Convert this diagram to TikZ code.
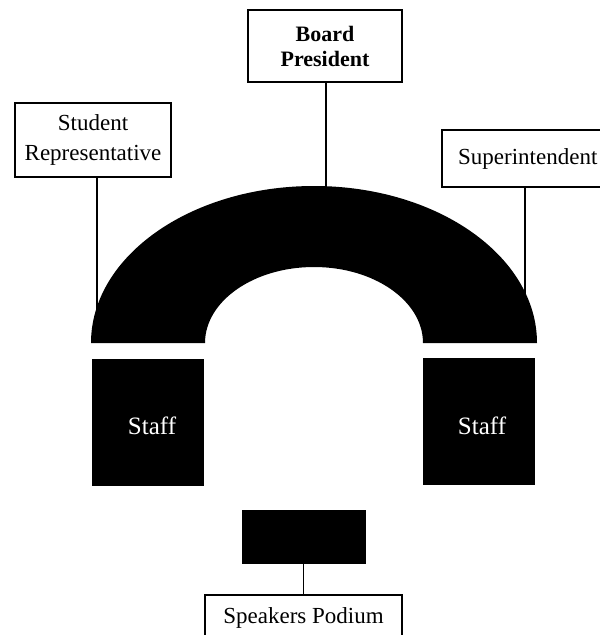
\documentclass[tikz,border=0pt]{standalone}
\usepackage{fontspec}
\setmainfont{Liberation Serif}
\begin{document}
\begin{tikzpicture}[x=1pt,y=-1pt,
  label box/.style={draw=black,line width=1.6pt,fill=white,inner sep=0pt,align=center,
    font=\fontsize{23}{29}\selectfont},
  seat block/.style={fill=black,inner sep=0pt,text=white,font=\fontsize{25}{30}\selectfont},
  wire/.style={line width=1.5pt}]
  \useasboundingbox (0,0) rectangle (600,635);
  \clip (0,0) rectangle (600,635);

  % horseshoe table
  \fill[black,even odd rule] (91,343) arc[start angle=180,end angle=360,x radius=223,y radius=157]
    -- (423,343) arc[start angle=0,end angle=-180,x radius=109,y radius=76] -- cycle;
  \coordinate (topseat) at (326,190);
  \coordinate (leftseat) at (97,310);
  \coordinate (rightseat) at (525,296);

  % staff tables
  \node[seat block,minimum width=112pt,minimum height=127pt] (staffL) at (148,422.5) {};
  \node[text=white,font=\fontsize{25}{30}\selectfont] at (152,426) {Staff};
  \node[seat block,minimum width=112pt,minimum height=127pt] (staffR) at (479,421.5) {};
  \node[text=white,font=\fontsize{25}{30}\selectfont] at (482,426) {Staff};

  % podium
  \node[seat block,minimum width=124pt,minimum height=54pt] (podium) at (304,537) {};

  % labels
  \node[label box,minimum width=154pt,minimum height=72pt,
        font=\fontsize{22}{25}\bfseries\selectfont] (board) at (325,46) {Board\\President};
  \node[label box,minimum width=156pt,minimum height=74pt,
        font=\fontsize{23}{30}\selectfont] (student) at (93,140) {Student\\Representative};
  \node[label box,minimum width=172pt,minimum height=57pt,anchor=west] (super) at (441,158.5) {Superintendent};
  \node[label box,minimum width=197pt,minimum height=46pt,anchor=north] (speaker) at (303.5,594) {Speakers Podium};

  % connectors
  \draw[wire] (board.south -| topseat) -- (topseat);
  \draw[wire] (student.south -| leftseat) -- (leftseat);
  \draw[wire] (super.south -| rightseat) -- (rightseat);
  \draw[wire] (podium.south -| speaker.north) -- (speaker.north);
\end{tikzpicture}
\end{document}
